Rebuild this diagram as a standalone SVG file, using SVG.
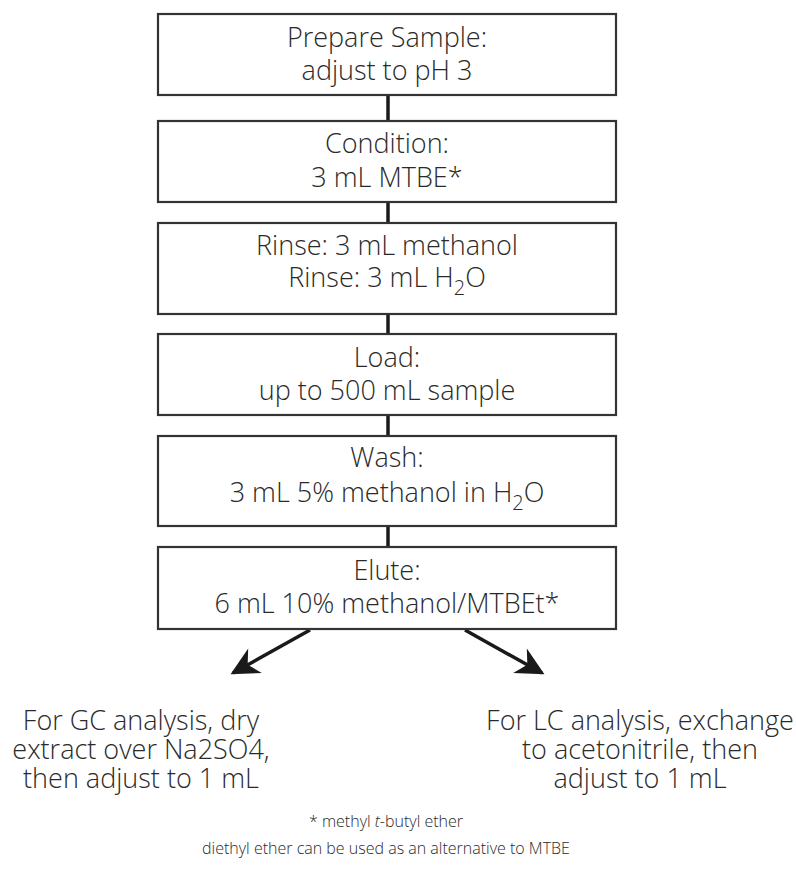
<svg xmlns="http://www.w3.org/2000/svg" width="796" height="878" viewBox="0 0 796 878">
<style>
.box{fill:#fff;stroke:#333;stroke-width:2.2}
.t{font-family:"Open Sans","Lato","Liberation Sans",sans-serif;font-weight:300;font-size:27px;fill:#2a2a2a;text-anchor:middle}
.sub{font-size:20px}
.fn{font-family:"Open Sans","Lato","Liberation Sans",sans-serif;font-weight:300;font-size:16px;fill:#2a2a2a;text-anchor:middle}
.conn{stroke:#1a1a1a;stroke-width:3.5;fill:none}
</style>
<defs>
<marker id="ah" viewBox="0 0 10 10" refX="9" refY="5" markerWidth="9" markerHeight="8" orient="auto" markerUnits="strokeWidth">
<path d="M0,0 L10,5 L0,10 L3,5 Z" fill="#1a1a1a"/>
</marker>
</defs>
<rect width="796" height="878" fill="#fff"/>
<g id="connectors">
<line class="conn" x1="388" y1="95" x2="388" y2="121"/>
<line class="conn" x1="388" y1="202" x2="388" y2="223"/>
<line class="conn" x1="388" y1="314" x2="388" y2="334"/>
<line class="conn" x1="388" y1="415" x2="388" y2="436"/>
<line class="conn" x1="388" y1="526" x2="388" y2="547"/>
<line class="conn" x1="310" y1="630" x2="233" y2="673" marker-end="url(#ah)"/>
<line class="conn" x1="465" y1="630" x2="542" y2="673" marker-end="url(#ah)"/>
</g>
<g id="n1">
<rect class="box" x="158" y="14" width="458" height="81"/>
<text class="t" x="387" y="47">Prepare Sample:</text>
<text class="t" x="387" y="80">adjust to pH 3</text>
</g>
<g id="n2">
<rect class="box" x="158" y="121" width="458" height="81"/>
<text class="t" x="387" y="153">Condition:</text>
<text class="t" x="387" y="187">3 mL MTBE*</text>
</g>
<g id="n3">
<rect class="box" x="158" y="223" width="458" height="91"/>
<text class="t" x="387" y="255">Rinse: 3 mL methanol</text>
<text class="t" x="387" y="287">Rinse: 3 mL H<tspan class="sub" dy="8">2</tspan><tspan dy="-8">O</tspan></text>
</g>
<g id="n4">
<rect class="box" x="158" y="334" width="458" height="81"/>
<text class="t" x="387" y="367">Load:</text>
<text class="t" x="387" y="400">up to 500 mL sample</text>
</g>
<g id="n5">
<rect class="box" x="158" y="436" width="458" height="90"/>
<text class="t" x="387" y="467">Wash:</text>
<text class="t" x="387" y="502">3 mL 5% methanol in H<tspan class="sub" dy="8">2</tspan><tspan dy="-8">O</tspan></text>
</g>
<g id="n6">
<rect class="box" x="158" y="547" width="458" height="82"/>
<text class="t" x="387" y="580">Elute:</text>
<text class="t" x="387" y="613">6 mL 10% methanol/MTBEt*</text>
</g>
<g id="gc">
<text class="t" x="141" y="730">For GC analysis, dry<tspan x="141" dy="29">extract over Na2SO4,</tspan><tspan x="141" dy="29">then adjust to 1 mL</tspan></text>
</g>
<g id="lc">
<text class="t" x="640" y="730">For LC analysis, exchange<tspan x="640" dy="29">to acetonitrile, then</tspan><tspan x="640" dy="29">adjust to 1 mL</tspan></text>
</g>
<g id="footnote">
<text class="fn" x="386" y="827">* methyl <tspan font-style="italic">t</tspan>-butyl ether<tspan x="386" dy="27">diethyl ether can be used as an alternative to MTBE</tspan></text>
</g>
</svg>
